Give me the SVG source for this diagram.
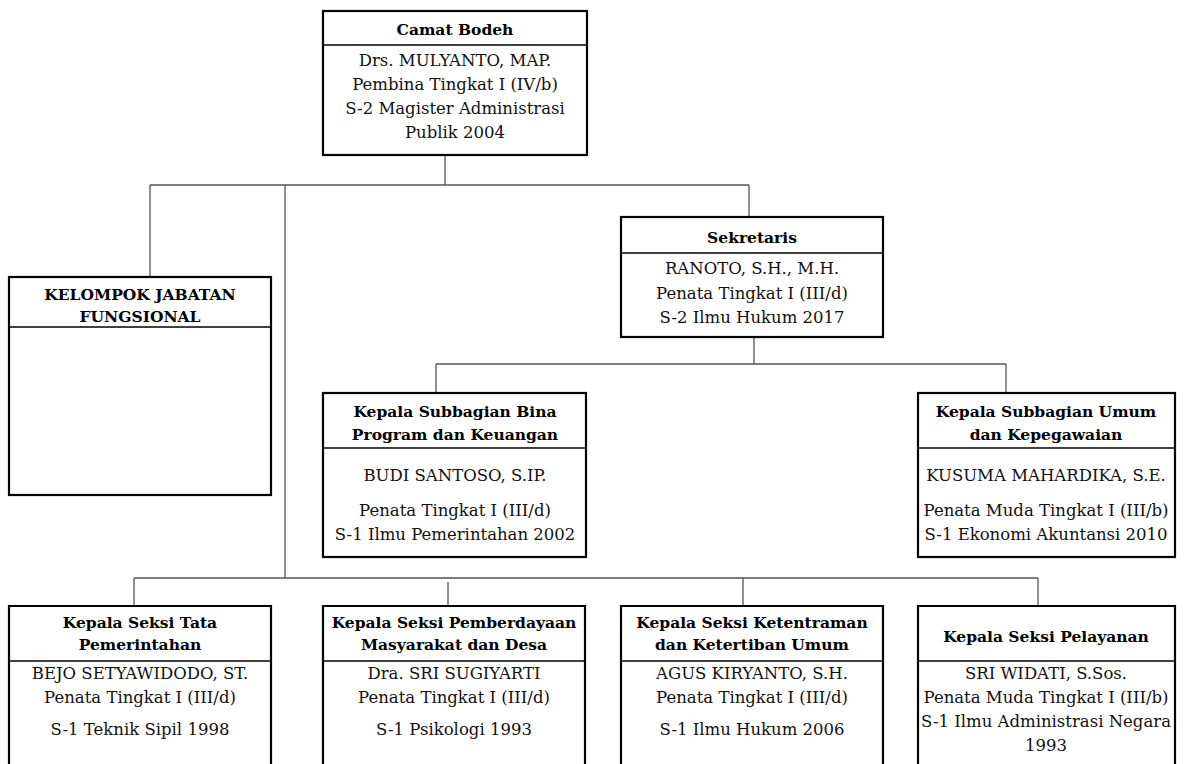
<svg xmlns="http://www.w3.org/2000/svg" width="1186" height="764" viewBox="0 0 1186 764">
<style>
.box{fill:#fff;stroke:#000;stroke-width:2.2}
.div{stroke:#000;stroke-width:1.6}
.con{stroke:#555;stroke-width:1.3;fill:none}
text{font-family:"DejaVu Serif","Liberation Serif",serif;font-size:16.5px;fill:#111;text-anchor:middle}
.t{font-weight:bold;fill:#000;font-size:15.5px}
</style>
<rect width="1186" height="764" fill="#fff"/>
<g id="connectors">
<path class="con" d="M445 155V185M150 185H749M150 185V277M285 185V578M749 185V217"/>
<path class="con" d="M754 337V364M436 364H1006M436 364V393M1006 364V393"/>
<path class="con" d="M134 578H1038M134 578V606M448 582V606M743 578V606M1038 578V606"/>
</g>
<g id="camat">
<rect class="box" x="323" y="11" width="264" height="144"/>
<line class="div" x1="323" y1="45" x2="587" y2="45"/>
<text class="t" x="455" y="35">Camat Bodeh</text>
<text x="455" y="66">Drs. MULYANTO, MAP.</text>
<text x="455" y="90">Pembina Tingkat I (IV/b)</text>
<text x="455" y="114">S-2 Magister Administrasi</text>
<text x="455" y="138">Publik 2004</text>
</g>
<g id="kelompok">
<rect class="box" x="9" y="277" width="262" height="218"/>
<line class="div" x1="9" y1="327" x2="271" y2="327"/>
<text class="t" x="140" y="300">KELOMPOK JABATAN</text>
<text class="t" x="140" y="322">FUNGSIONAL</text>
</g>
<g id="sekretaris">
<rect class="box" x="621" y="217" width="262" height="120"/>
<line class="div" x1="621" y1="253" x2="883" y2="253"/>
<text class="t" x="752" y="243">Sekretaris</text>
<text x="752" y="274">RANOTO, S.H., M.H.</text>
<text x="752" y="299">Penata Tingkat I (III/d)</text>
<text x="752" y="323">S-2 Ilmu Hukum 2017</text>
</g>
<g id="bina">
<rect class="box" x="323" y="393" width="263" height="164"/>
<line class="div" x1="323" y1="448" x2="586" y2="448"/>
<text class="t" x="455" y="417">Kepala Subbagian Bina</text>
<text class="t" x="455" y="440">Program dan Keuangan</text>
<text x="455" y="481">BUDI SANTOSO, S.IP.</text>
<text x="455" y="516">Penata Tingkat I (III/d)</text>
<text x="455" y="540">S-1 Ilmu Pemerintahan 2002</text>
</g>
<g id="umum">
<rect class="box" x="918" y="393" width="257" height="164"/>
<line class="div" x1="918" y1="448" x2="1175" y2="448"/>
<text class="t" x="1046" y="417">Kepala Subbagian Umum</text>
<text class="t" x="1046" y="440">dan Kepegawaian</text>
<text x="1046" y="481">KUSUMA MAHARDIKA, S.E.</text>
<text x="1046" y="516">Penata Muda Tingkat I (III/b)</text>
<text x="1046" y="540">S-1 Ekonomi Akuntansi 2010</text>
</g>
<g id="tatapemerintahan">
<path class="box" d="M9 770V606H271V770"/>
<line class="div" x1="9" y1="661" x2="271" y2="661"/>
<text class="t" x="140" y="628">Kepala Seksi Tata</text>
<text class="t" x="140" y="650">Pemerintahan</text>
<text x="140" y="679">BEJO SETYAWIDODO, ST.</text>
<text x="140" y="703">Penata Tingkat I (III/d)</text>
<text x="140" y="735">S-1 Teknik Sipil 1998</text>
</g>
<g id="pemberdayaan">
<path class="box" d="M323 770V606H585V770"/>
<line class="div" x1="323" y1="661" x2="585" y2="661"/>
<text class="t" x="454" y="628">Kepala Seksi Pemberdayaan</text>
<text class="t" x="454" y="650">Masyarakat dan Desa</text>
<text x="454" y="679">Dra. SRI SUGIYARTI</text>
<text x="454" y="703">Penata Tingkat I (III/d)</text>
<text x="454" y="735">S-1 Psikologi 1993</text>
</g>
<g id="ketentraman">
<path class="box" d="M621 770V606H883V770"/>
<line class="div" x1="621" y1="661" x2="883" y2="661"/>
<text class="t" x="752" y="628">Kepala Seksi Ketentraman</text>
<text class="t" x="752" y="650">dan Ketertiban Umum</text>
<text x="752" y="679">AGUS KIRYANTO, S.H.</text>
<text x="752" y="703">Penata Tingkat I (III/d)</text>
<text x="752" y="735">S-1 Ilmu Hukum 2006</text>
</g>
<g id="pelayanan">
<path class="box" d="M918 770V606H1175V770"/>
<line class="div" x1="918" y1="661" x2="1175" y2="661"/>
<text class="t" x="1046" y="642">Kepala Seksi Pelayanan</text>
<text x="1046" y="679">SRI WIDATI, S.Sos.</text>
<text x="1046" y="703">Penata Muda Tingkat I (III/b)</text>
<text x="1046" y="727">S-1 Ilmu Administrasi Negara</text>
<text x="1046" y="751">1993</text>
</g>
</svg>
